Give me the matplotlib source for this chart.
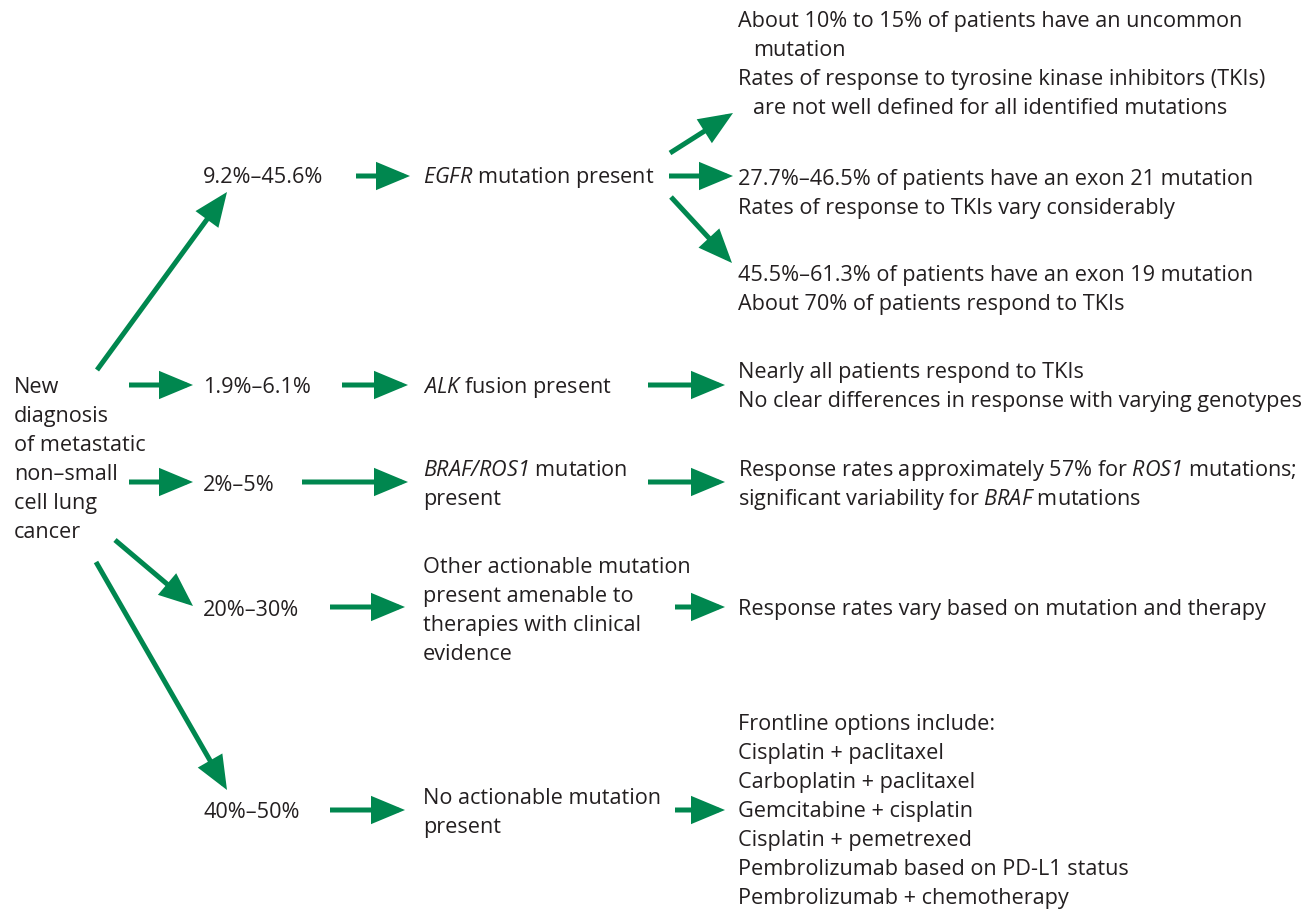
"""Flow diagram: molecular testing outcomes in newly diagnosed metastatic NSCLC."""

import matplotlib

matplotlib.use("Agg")
import matplotlib.pyplot as plt
from matplotlib.font_manager import FontProperties
from matplotlib.patches import FancyArrowPatch
from matplotlib.textpath import TextPath

FONT = "Open Sans"
GREEN = "#00874f"
INK = "#231f20"

plt.rcParams["font.family"] = FONT
plt.rcParams["mathtext.fontset"] = "custom"
plt.rcParams["mathtext.rm"] = FONT
# \mathsf used for gene names: italic face, digits and slash stay italic too
plt.rcParams["mathtext.sf"] = f"{FONT}:italic"

# --- content --------------------------------------------------------------
ROOT = ["New", "diagnosis", "of metastatic", "non–small", "cell lung", "cancer"]
SHARES = ["9.2%–45.6%", "1.9%–6.1%", "2%–5%", "20%–30%", "40%–50%"]
FINDINGS = [
    [r"$\mathsf{EGFR}$ mutation present"],
    [r"$\mathsf{ALK}$ fusion present"],
    [r"$\mathsf{BRAF/ROS1}$ mutation", "present"],
    ["Other actionable mutation", "present amenable to", "therapies with clinical", "evidence"],
    ["No actionable mutation", "present"],
]
OUTCOMES = [
    [
        "About 10% to 15% of patients have an uncommon",
        "mutation",
        "Rates of response to tyrosine kinase inhibitors (TKIs)",
        "are not well defined for all identified mutations",
    ],
    ["27.7%–46.5% of patients have an exon 21 mutation", "Rates of response to TKIs vary considerably"],
    ["45.5%–61.3% of patients have an exon 19 mutation", "About 70% of patients respond to TKIs"],
    ["Nearly all patients respond to TKIs", "No clear differences in response with varying genotypes"],
    [
        r"Response rates approximately 57% for $\mathsf{ROS1}$ mutations;",
        r"significant variability for $\mathsf{BRAF}$ mutations",
    ],
    ["Response rates vary based on mutation and therapy"],
    [
        "Frontline options include:",
        "Cisplatin + paclitaxel",
        "Carboplatin + paclitaxel",
        "Gemcitabine + cisplatin",
        "Cisplatin + pemetrexed",
        "Pembrolizumab based on PD-L1 status",
        "Pembrolizumab + chemotherapy",
    ],
]
INDENTED = {(0, 1), (0, 3)}  # wrapped continuation lines

# --- layout (pixel coords, y down) ---------------------------------------
W, H = 1311, 911
LINE = 29
X_ROOT, Y_ROOT = 14, 385
X_SHARE, Y_SHARE = 203, [175, 385, 483, 608, 810]
X_FIND, Y_FIND = 423, [175, 385, 468, 565, 796]
X_OUT, Y_OUT = 738, [19, 177, 273, 370, 468, 607, 722]
ARROWS = [
    # root -> shares
    ((97, 370), (227, 192)),
    ((129, 385), (193, 385)),
    ((129, 482), (193, 482)),
    ((115, 540), (193, 606)),
    ((96, 562), (227, 790)),
    # shares -> findings
    ((356, 176), (410, 176)),
    ((342, 385), (408, 385)),
    ((302, 482), (408, 482)),
    ((330, 607), (405, 607)),
    ((330, 810), (405, 810)),
    # findings -> outcomes
    ((670, 153), (733, 113)),
    ((669, 176), (733, 176)),
    ((671, 197), (732, 263)),
    ((648, 385), (725, 385)),
    ((648, 482), (725, 482)),
    ((675, 607), (725, 607)),
    ((675, 810), (725, 810)),
]

# font size fitted so the widest outcome line spans its width in the reference
ref = "No clear differences in response with varying genotypes"
w10 = TextPath((0, 0), ref, size=10, prop=FontProperties(family=FONT)).get_extents().width
FS = 10 * 559 / (w10 * 100 / 72)
CAP = FS * 100 / 72 * 0.714  # cap height in px


def put_lines(ax, x, y0, rows, block=None):
    for i, s in enumerate(rows):
        dx = 15 if (block, i) in INDENTED else 0
        ax.text(x + dx, y0 + i * LINE + CAP / 2, s, fontsize=FS, color=INK, ha="left", va="baseline")


fig = plt.figure(figsize=(W / 100, H / 100), dpi=100)
ax = fig.add_axes([0, 0, 1, 1])
ax.set_xlim(0, W)
ax.set_ylim(H, 0)
ax.axis("off")

put_lines(ax, X_ROOT, Y_ROOT, ROOT)
for s, y in zip(SHARES, Y_SHARE):
    put_lines(ax, X_SHARE, y, [s])
for rows, y in zip(FINDINGS, Y_FIND):
    put_lines(ax, X_FIND, y, rows)
for k, (rows, y) in enumerate(zip(OUTCOMES, Y_OUT)):
    put_lines(ax, X_OUT, y, rows, block=k)

for a, b in ARROWS:
    ax.add_patch(
        FancyArrowPatch(
            a, b,
            arrowstyle="-|>,head_length=18,head_width=7.5",
            mutation_scale=1,
            shrinkA=0, shrinkB=0,
            lw=3.6, color=GREEN, joinstyle="miter", capstyle="butt",
        )
    )

fig.savefig("out.png", dpi=100)
plt.close(fig)
